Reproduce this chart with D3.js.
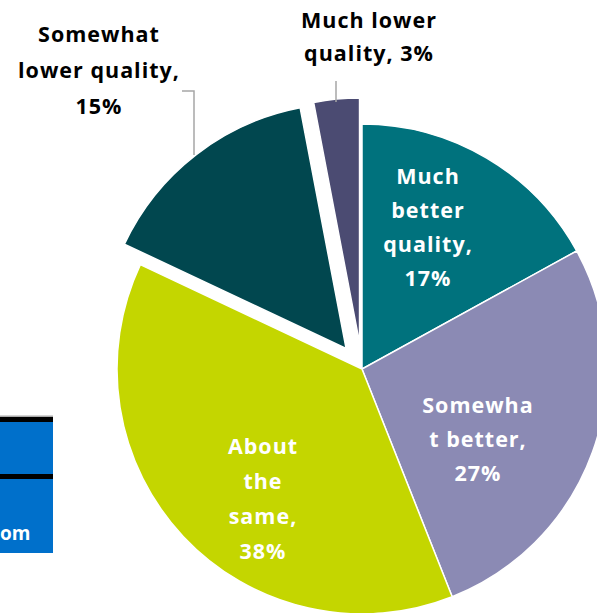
<!DOCTYPE html>
<html>
<head>
<meta charset="utf-8">
<script src="https://cdn.jsdelivr.net/npm/d3@7"></script>
<style>
  html, body { margin: 0; padding: 0; background: #fff; }
  svg { display: block; }
  text { font-family: "Open Sans", "Liberation Sans", sans-serif; font-weight: 700; }
</style>
</head>
<body>
<svg id="chart" width="597" height="613"></svg>
<script>
// Survey answers about quality, in pie order (clockwise from 12 o'clock)
const categories = ["Much better quality", "Somewhat better", "About the same", "Somewhat lower quality", "Much lower quality"];
const values = [17, 27, 38, 15, 3];
const colors = ["#00727D", "#8B8AB4", "#C4D600", "#01474F", "#4B4B72"];
const exploded = [false, false, false, true, true];
// Label text lines per slice
const labelLines = [
  ["Much", "better", "quality,", "17%"],
  ["Somewha", "t better,", "27%"],
  ["About", "the", "same,", "38%"],
  ["Somewhat", "lower quality,", "15%"],
  ["Much lower", "quality, 3%"]
];

const svg = d3.select("#chart");
const cx = 362, cy = 369, radius = 245, explodeDist = 26;

// Partial legend box at the left edge
const legend = svg.append("g");
legend.append("rect").attr("x", 0).attr("y", 416).attr("width", 53).attr("height", 137).attr("fill", "#0070CB");
legend.append("rect").attr("x", 0).attr("y", 415.5).attr("width", 53).attr("height", 1.5).attr("fill", "#aaa");
legend.append("rect").attr("x", 0).attr("y", 417).attr("width", 53).attr("height", 5).attr("fill", "#000");
legend.append("rect").attr("x", 0).attr("y", 474).attr("width", 53).attr("height", 5).attr("fill", "#000");
legend.append("text").attr("x", 0).attr("y", 540).attr("fill", "#fff").attr("font-size", 19).text("om");

const pie = d3.pie().value(d => d).sort(null);
const arcs = pie(values);
const arc = d3.arc().innerRadius(0).outerRadius(radius);

const g = svg.append("g").attr("transform", `translate(${cx},${cy})`);

g.selectAll("path.slice")
  .data(arcs)
  .join("path")
  .attr("class", "slice")
  .attr("d", arc)
  .attr("fill", (d, i) => colors[i])
  .attr("stroke", "#fff")
  .attr("stroke-width", 1.5)
  .attr("transform", (d, i) => {
    if (!exploded[i]) return null;
    const a = (d.startAngle + d.endAngle) / 2;
    return `translate(${Math.sin(a) * explodeDist},${-Math.cos(a) * explodeDist})`;
  });

// Leader lines for the outside labels
svg.append("polyline")
  .attr("points", "182,91 194,91 194,155")
  .attr("fill", "none").attr("stroke", "#A6A6A6").attr("stroke-width", 1.5);
svg.append("line")
  .attr("x1", 336).attr("y1", 81).attr("x2", 336).attr("y2", 102)
  .attr("stroke", "#A6A6A6").attr("stroke-width", 1.5);

// Label anchors: center x, first baseline y, line step, colour
const labelLayout = [
  { x: 428, y: 184, step: 34, fill: "#fff" },
  { x: 478, y: 413, step: 34, fill: "#fff" },
  { x: 263, y: 454, step: 35, fill: "#fff" },
  { x: 99,  y: 42,  step: 36, fill: "#000" },
  { x: 369, y: 28,  step: 33, fill: "#000" }
];

labelLines.forEach((lines, i) => {
  const L = labelLayout[i];
  const t = svg.append("text")
    .attr("text-anchor", "middle")
    .attr("fill", L.fill)
    .attr("font-size", 21.5)
    .attr("letter-spacing", 1);
  lines.forEach((s, k) => {
    t.append("tspan").attr("x", L.x).attr("y", L.y + k * L.step).text(s);
  });
});
</script>
</body>
</html>
